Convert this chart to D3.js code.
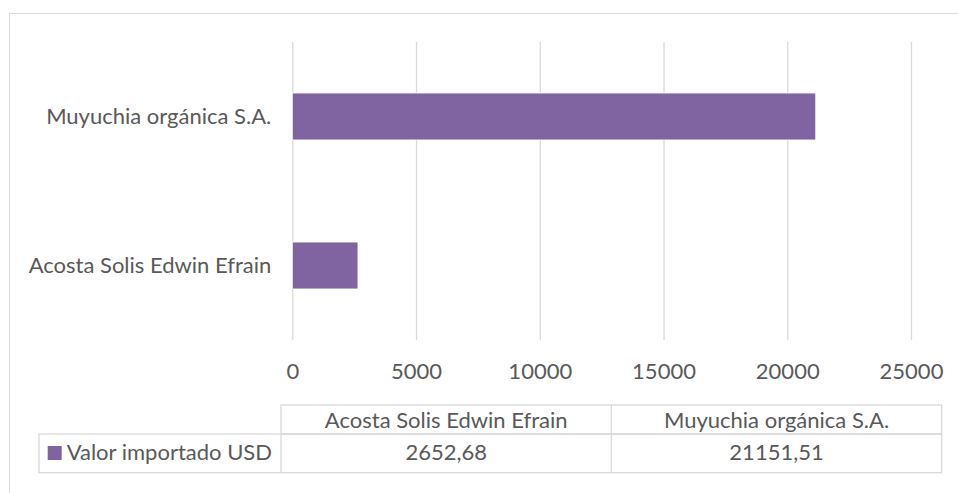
<!DOCTYPE html>
<html>
<head>
<meta charset="utf-8">
<script src="https://cdn.jsdelivr.net/npm/d3@7"></script>
<style>
  body { margin: 0; background: #fff; }
  text { font-family: Lato, "Open Sans", sans-serif; fill: #595959; }
</style>
</head>
<body>
<svg width="958" height="493"></svg>
<script>
let categories = ["Acosta Solis Edwin Efrain", "Muyuchia orgánica S.A."];
let values = [2652.68, 21151.51];
let valueLabels = ["2652,68", "21151,51"];
let seriesName = "Valor importado USD";
let xTicks = [0, 5000, 10000, 15000, 20000, 25000];

let svg = d3.select("svg");
let fontSize = 22;
let barColor = "#8064A2";
let lineColor = "#D9D9D9";

// outer chart frame (right and bottom run off the picture)
svg.append("path")
  .attr("d", "M9.5,493V13.5H958")
  .attr("fill", "none")
  .attr("stroke", lineColor);

let x = d3.scaleLinear().domain([0, 25000]).range([292.3, 911]);
let y = d3.scaleBand()
  .domain(categories.slice().reverse())
  .range([42, 340])
  .paddingInner(0.685)
  .paddingOuter(0.3425);

// vertical gridlines
svg.append("g")
  .attr("transform", "translate(0,340)")
  .call(d3.axisBottom(x).tickValues(xTicks).tickSize(-298).tickFormat(""))
  .call((g) => g.select(".domain").remove())
  .call((g) => g.selectAll("line").attr("stroke", lineColor).attr("stroke-width", 1.3));

// x tick labels
svg.append("g")
  .attr("transform", "translate(0,340)")
  .call(d3.axisBottom(x).tickValues(xTicks).tickSize(0).tickFormat(d3.format("d")))
  .call((g) => g.select(".domain").remove())
  .call((g) => g.selectAll("text")
    .attr("y", 39).attr("dy", null)
    .style("font-size", fontSize + "px"));

// category labels
svg.append("g")
  .attr("transform", "translate(292.3,0)")
  .call(d3.axisLeft(y).tickSize(0).tickPadding(21))
  .call((g) => g.select(".domain").remove())
  .call((g) => g.selectAll("text").style("font-size", fontSize + "px"));

// bars
svg.append("g")
  .selectAll("rect")
  .data(categories)
  .enter()
  .append("rect")
  .attr("x", x(0))
  .attr("y", (d) => y(d))
  .attr("width", (d, i) => x(values[i]) - x(0))
  .attr("height", y.bandwidth())
  .attr("fill", barColor)
  .attr("stroke", "#fff")
  .attr("stroke-width", 0.8);

// data table
let col = d3.scaleBand().domain(categories).range([281, 941.7]);
let tTop = 405, tMid = 434, tBot = 472.7, legendLeft = 39;
let table = svg.append("g")
  .attr("fill", "none")
  .attr("stroke", lineColor)
  .attr("stroke-width", 1.3);

table.append("rect")
  .attr("x", col.range()[0]).attr("y", tTop)
  .attr("width", col.range()[1] - col.range()[0]).attr("height", tMid - tTop);
table.append("rect")
  .attr("x", legendLeft).attr("y", tMid)
  .attr("width", col.range()[1] - legendLeft).attr("height", tBot - tMid);
table.selectAll("line.col")
  .data(categories.slice(1))
  .enter()
  .append("line")
  .attr("x1", (d) => col(d)).attr("x2", (d) => col(d))
  .attr("y1", tTop).attr("y2", tBot);
table.append("line")
  .attr("x1", col.range()[0]).attr("x2", col.range()[0])
  .attr("y1", tMid).attr("y2", tBot);

svg.append("g")
  .selectAll("text")
  .data(categories)
  .enter()
  .append("text")
  .attr("x", (d) => col(d) + col.bandwidth() / 2)
  .attr("y", 428)
  .attr("text-anchor", "middle")
  .style("font-size", fontSize + "px")
  .text((d) => d);

svg.append("g")
  .selectAll("text")
  .data(valueLabels)
  .enter()
  .append("text")
  .attr("x", (d, i) => col(categories[i]) + col.bandwidth() / 2)
  .attr("y", 460)
  .attr("text-anchor", "middle")
  .style("font-size", fontSize + "px")
  .text((d) => d);

// legend key in the table
svg.append("rect")
  .attr("x", 47.7).attr("y", 446)
  .attr("width", 14).attr("height", 14)
  .attr("fill", barColor);
svg.append("text")
  .attr("x", 66.7).attr("y", 460)
  .style("font-size", fontSize + "px")
  .text(seriesName);
</script>
</body>
</html>
